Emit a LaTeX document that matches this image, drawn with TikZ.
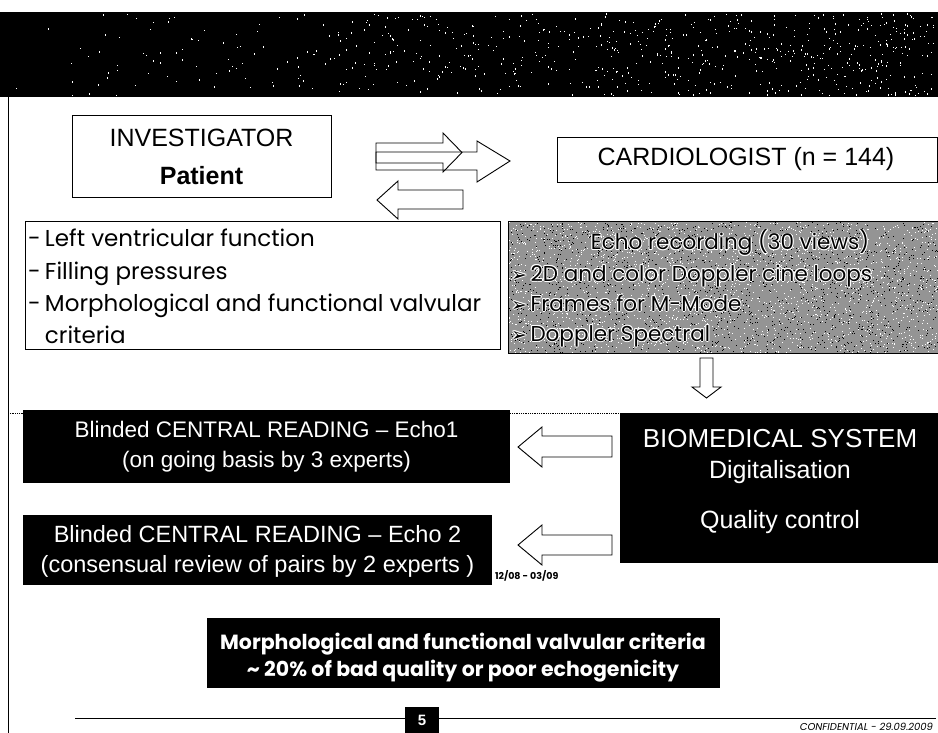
\documentclass[tikz,border=0pt]{standalone}
\usepackage{fontspec}
\setmainfont{Liberation Sans}
\newfontfamily\comic{Poppins}
\newfontfamily\dings{DejaVu Sans}

% text with a thin white outline, drawn as offset copies under the black text
\newcommand\halotext[4]{%
  \foreach \dx/\dy [count=\k] in {-1/0,1/0,0/-1,0/1,-0.8/-0.8,0.8/0.8,-0.8/0.8,0.8/-0.8}{%
    \node[#3,text=white] (#1h\k) at ([shift={(\dx,\dy)}]#2) {#4};}%
  \node[#3] (#1) at (#2) {#4};}

\begin{document}
\begin{tikzpicture}[x=1pt,y=-1pt,
  every node/.style={inner sep=0pt,outer sep=0pt},
  frameline/.style={line width=1pt},
  wbox/.style={draw,line width=0.8pt,fill=white,anchor=north west},
  bbox/.style={fill=black,anchor=north west},
  greybox/.style={draw,line width=0.8pt,fill=black!42,anchor=north west},
  blockarrow/.style={draw,line width=0.9pt,line join=miter},
  arial/.style={anchor=base,font=\fontsize{#1}{#1}\selectfont},
  arialw/.style={anchor=base,text=white,font=\fontsize{#1}{#1}\selectfont},
  hand/.style={anchor=base west,font=\comic\fontsize{#1}{#1}\selectfont},
  handc/.style={anchor=base,font=\comic\fontsize{#1}{#1}\selectfont},
]
\useasboundingbox (0,0) rectangle (938,733);
\fill[white] (0,0) rectangle (938,733);

% header band with its grain
\node[bbox,minimum width=938,minimum height=85] (band) at (0,12) {};
\pgfmathsetseed{11}
\foreach \i in {1,...,700}{\fill[white] ({936*sqrt(rnd)},{13+rnd*82}) rectangle ++(0.9,1.4);}

% left page rule
\coordinate (ruletop) at (8,97);
\coordinate (rulebot) at (8,733);
\draw[frameline] (ruletop) -- (rulebot);

% investigator
\node[wbox,minimum width=259,minimum height=82] (inv) at (72,115) {};
\node[arial=25] (invA) at (201.5,147) {INVESTIGATOR};
\node[anchor=base,font=\bfseries\fontsize{25}{25}\selectfont] (invB) at (201.5,185) {Patient};

% cardiologist
\node[wbox,minimum width=380,minimum height=45] (card) at (557,137) {};
\node[arial=25] (cardT) at (746,166) {CARDIOLOGIST (n = 144)};

% exchange arrows
\draw[blockarrow] (376,143) -- (443,143) -- (443,133) -- (462,152.5) -- (443,172) -- (443,163) -- (376,163) -- cycle;
\draw[blockarrow] (376,152) -- (477,152) -- (477,141) -- (510,161) -- (477,182) -- (477,170) -- (376,170) -- cycle;
\draw[blockarrow] (463,190) -- (398,190) -- (398,181) -- (377,200) -- (398,219) -- (398,209) -- (463,209) -- cycle;

% criteria list
\node[wbox,minimum width=475,minimum height=128] (crit) at (25,221) {};
\node[hand=23] (c1) at (28,247) {-};
\node[hand=23] (c1t) at (45,247) {Left ventricular function};
\node[hand=23] (c2) at (28,279) {-};
\node[hand=23] (c2t) at (45,279) {Filling pressures};
\node[hand=23] (c3) at (28,311) {-};
\node[hand=23] (c3t) at (45,311) {Morphological and functional valvular};
\node[hand=23] (c4t) at (45,343) {criteria};

% echo recording box with grain
\node[greybox,minimum width=432,minimum height=132] (echo) at (508,221) {};
\pgfmathsetseed{5}
\foreach \i in {1,...,2200}{\fill[white] ({509+rnd*428},{222+rnd*130}) rectangle ++(1,1);}
\foreach \i in {1,...,1600}{\fill[black] ({509+rnd*428},{222+rnd*130}) rectangle ++(1,1);}
\halotext{e0}{730,250}{handc=21.5}{Echo recording (30 views)}
\halotext{e1}{511,281}{hand=21.5}{{\dings\fontsize{19}{19}\selectfont ➢}\,2D and color Doppler cine loops}
\halotext{e2}{511,311}{hand=21.5}{{\dings\fontsize{19}{19}\selectfont ➢}\,Frames for M-Mode}
\halotext{e3}{511,341}{hand=21.5}{{\dings\fontsize{19}{19}\selectfont ➢}\,Doppler Spectral}

% down arrow
\draw[blockarrow] (700,358) -- (713,358) -- (713,387) -- (721,387) -- (706.5,398) -- (692,387) -- (700,387) -- cycle;

% biomedical system
\node[bbox,minimum width=318,minimum height=150] (bio) at (620,413) {};
\draw[densely dotted,line width=0.8pt] (ruletop |- bio.north west) -- (bio.north west);
\node[arialw=26] (bioA) at (780,447) {BIOMEDICAL SYSTEM};
\node[arialw=25] (bioB) at (780,478) {Digitalisation};
\node[arialw=25] (bioC) at (780,528) {Quality control};

% central readings
\node[bbox,minimum width=487,minimum height=73] (rd1) at (23,410) {};
\node[arialw=22.5] (rd1a) at (266.5,437) {Blinded CENTRAL READING -- Echo1};
\node[arialw=22.5] (rd1b) at (266.5,467) {(on going basis by 3 experts)};
\node[bbox,minimum width=469,minimum height=70] (rd2) at (23,515) {};
\node[arialw=23.5] (rd2a) at (257.5,542) {Blinded CENTRAL READING -- Echo 2};
\node[arialw=23.5] (rd2b) at (257.5,572) {(consensual review of pairs by 2 experts )};

\draw[blockarrow] (612,436) -- (542,436) -- (542,427) -- (518,447) -- (542,467) -- (542,457) -- (612,457) -- cycle;
\draw[blockarrow] (612,535) -- (542,535) -- (542,525) -- (518,545) -- (542,565) -- (542,555) -- (612,555) -- cycle;
\node[anchor=base west,font=\comic\bfseries\fontsize{9.5}{9.5}\selectfont] (dates) at (495,579) {12/08 - 03/09};

% conclusion
\node[bbox,minimum width=513,minimum height=70] (concl) at (207,618) {};
\node[anchor=base,text=white,font=\comic\bfseries\fontsize{20.5}{20.5}\selectfont] (cA) at (463,649) {Morphological and functional valvular criteria};
\node[anchor=base,text=white,font=\comic\bfseries\fontsize{20.5}{20.5}\selectfont] (cB) at (463,676) {\textasciitilde{} 20\% of bad quality or poor echogenicity};

% footer
\coordinate (footL) at (75,718);
\coordinate (footR) at (936,718);
\draw[line width=1pt] (footL) -- (footR);
\node[bbox,minimum width=34,minimum height=26] (pg) at (405,707) {};
\node[anchor=center,text=white,font=\bfseries\fontsize{15}{15}\selectfont] (pgn) at (pg.center) {5};
\node[anchor=base east,font=\comic\itshape\fontsize{10}{10}\selectfont] (conf) at (933,730) {CONFIDENTIAL - 29.09.2009};
\end{tikzpicture}
\end{document}
